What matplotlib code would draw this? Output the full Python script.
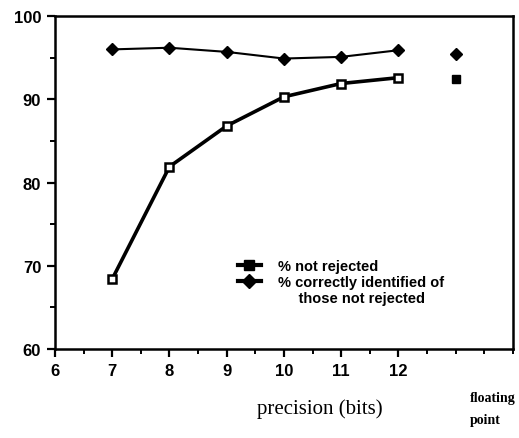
import matplotlib.pyplot as plt
from matplotlib.lines import Line2D
from matplotlib.ticker import MultipleLocator

# data
bits = [7, 8, 9, 10, 11, 12]
not_rejected = [68.4, 81.9, 86.8, 90.3, 91.9, 92.6]
correct_of_kept = [96.0, 96.2, 95.7, 94.9, 95.1, 95.9]
float_x = 13
float_not_rejected = 92.5
float_correct = 95.4
xtick_labels = ['6', '7', '8', '9', '10', '11', '12']

fig = plt.figure(figsize=(5.19, 4.39), dpi=100)
ax = fig.add_axes([0.106, 0.203, 0.882, 0.758])

sq, = ax.plot(bits, not_rejected, color='black', lw=2.6, marker='s', ms=5.5,
              mfc='white', mec='black', mew=1.8)
dm, = ax.plot(bits, correct_of_kept, color='black', lw=1.5, marker='D', ms=6,
              mfc='black', mec='black')
ax.plot([float_x], [float_correct], marker='D', ms=6, color='black', ls='none')
ax.plot([float_x], [float_not_rejected], marker='s', ms=6, color='black', ls='none')

ax.set_xlim(6, 14)
ax.set_ylim(60, 100)
ax.set_xticks(range(6, 13))
ax.set_xticklabels(xtick_labels)
ax.xaxis.set_minor_locator(MultipleLocator(0.5))
ax.set_yticks([60, 70, 80, 90, 100])
ax.yaxis.set_minor_locator(MultipleLocator(5))
ax.tick_params(which='major', direction='out', length=6, width=1.6, top=False, right=False,
               labelsize=12, pad=4)
ax.tick_params(which='minor', direction='out', length=3.5, width=1.4, top=False, right=False)
for lab in ax.get_xticklabels() + ax.get_yticklabels():
    lab.set_fontweight('bold')
    lab.set_family('Liberation Sans')
for sp in ax.spines.values():
    sp.set_linewidth(1.8)

# legend handles: thick stubs like the original key
h_sq = Line2D([], [], color='black', lw=3, marker='s', ms=7, mfc='black')
h_dm = Line2D([], [], color='black', lw=3, marker='D', ms=7, mfc='black')
h_blank = Line2D([], [], ls='none')
leg = ax.legend([h_sq, h_dm, h_blank],
                ['% not rejected', '% correctly identified of', '     those not rejected'],
                loc='upper left', bbox_to_anchor=(0.37, 0.31), frameon=False,
                handlelength=1.6, handletextpad=1.2, labelspacing=0.15,
                prop={'family': 'Liberation Sans', 'weight': 'bold', 'size': 10.5})

fig.text(0.617, 0.045, 'precision (bits)', family='Liberation Serif', fontsize=15,
         ha='center', va='bottom')
fig.text(0.905, 0.028, 'floating\npoint', family='Liberation Serif', fontweight='bold',
         fontsize=10, ha='left', va='bottom', linespacing=1.9)

fig.savefig('out.png', dpi=100)
